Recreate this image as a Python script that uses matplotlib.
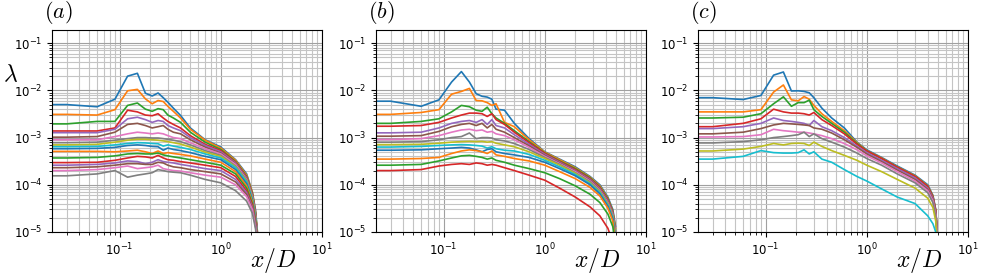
import matplotlib
matplotlib.use('Agg')
import matplotlib.pyplot as plt

plt.rcParams['mathtext.fontset'] = 'cm'

OUTPUT_FILE = 'out.png'

# x/D sampling (first point sits just left of the axis edge)
XA = [0.02, 0.03, 0.06, 0.09, 0.12, 0.15, 0.18, 0.21, 0.24, 0.27, 0.30, 0.34,
      0.40, 0.50, 0.70, 1.0, 1.4, 1.8, 2.05, 2.2, 2.35]
XB = [0.02, 0.03, 0.06, 0.09, 0.12, 0.15, 0.18, 0.21, 0.24, 0.27, 0.30, 0.33,
      0.40, 0.50, 0.70, 1.0, 1.4, 2.0, 2.8, 3.5, 4.2, 4.7, 5.0]
XC = [0.02, 0.03, 0.06, 0.09, 0.12, 0.15, 0.18, 0.21, 0.24, 0.27, 0.30, 0.36,
      0.45, 0.60, 0.80, 1.0, 1.4, 2.0, 3.0, 4.0, 4.5, 4.8, 5.0]

# panel (a): 18 curves, top to bottom
LAM_A = [
    [5.0e-3, 5.0e-3, 4.5e-3, 6.5e-3, 2.0e-2, 2.3e-2, 8.7e-3, 7.6e-3, 8.8e-3, 7.0e-3, 5.6e-3, 4.2e-3, 2.95e-3, 1.6e-3, 9.0e-4, 6.3e-4, 3.4e-4, 1.7e-4, 7e-5, 3e-5, 6e-6],
    [3.1e-3, 3.1e-3, 3.0e-3, 3.9e-3, 9.8e-3, 1.05e-2, 6.6e-3, 5.2e-3, 6.1e-3, 5.8e-3, 4.6e-3, 3.6e-3, 2.6e-3, 1.5e-3, 8.8e-4, 6.0e-4, 3.3e-4, 1.6e-4, 7e-5, 2.8e-5, 6e-6],
    [1.95e-3, 1.95e-3, 2.2e-3, 2.2e-3, 4.8e-3, 5.4e-3, 4.0e-3, 3.6e-3, 4.1e-3, 3.9e-3, 3.0e-3, 2.6e-3, 2.1e-3, 1.3e-3, 8.0e-4, 5.6e-4, 3.1e-4, 1.5e-4, 6.5e-5, 2.6e-5, 5e-6],
    [1.38e-3, 1.38e-3, 1.38e-3, 1.6e-3, 3.8e-3, 3.5e-3, 3.0e-3, 2.9e-3, 3.2e-3, 2.6e-3, 2.2e-3, 1.9e-3, 1.6e-3, 1.1e-3, 7.2e-4, 5.3e-4, 3.0e-4, 1.45e-4, 6.2e-5, 2.5e-5, 5e-6],
    [1.27e-3, 1.27e-3, 1.27e-3, 1.5e-3, 2.5e-3, 2.7e-3, 2.4e-3, 2.1e-3, 2.3e-3, 2.2e-3, 1.8e-3, 1.6e-3, 1.4e-3, 1.0e-3, 6.8e-4, 5.0e-4, 2.9e-4, 1.4e-4, 6e-5, 2.4e-5, 5e-6],
    [1.02e-3, 1.02e-3, 1.05e-3, 1.3e-3, 1.9e-3, 2.0e-3, 1.8e-3, 1.6e-3, 1.7e-3, 1.8e-3, 1.5e-3, 1.3e-3, 1.2e-3, 9.0e-4, 6.3e-4, 4.7e-4, 2.8e-4, 1.35e-4, 5.8e-5, 2.3e-5, 5e-6],
    [9.0e-4, 9.0e-4, 9.0e-4, 1.05e-3, 1.2e-3, 1.3e-3, 1.25e-3, 1.2e-3, 1.25e-3, 1.2e-3, 1.1e-3, 1.0e-3, 9.5e-4, 7.8e-4, 5.8e-4, 4.5e-4, 2.7e-4, 1.3e-4, 5.6e-5, 2.2e-5, 5e-6],
    [7.8e-4, 7.8e-4, 8.0e-4, 8.8e-4, 9.5e-4, 1.0e-3, 1.0e-3, 9.8e-4, 9.8e-4, 9.5e-4, 9.2e-4, 8.8e-4, 8.2e-4, 7.0e-4, 5.3e-4, 4.2e-4, 2.5e-4, 1.25e-4, 5.4e-5, 2.1e-5, 5e-6],
    [7.0e-4, 7.0e-4, 7.2e-4, 8.0e-4, 8.8e-4, 9.2e-4, 9.2e-4, 9.0e-4, 8.8e-4, 8.5e-4, 8.2e-4, 7.8e-4, 7.3e-4, 6.3e-4, 4.9e-4, 4.0e-4, 2.4e-4, 1.2e-4, 5.2e-5, 2.0e-5, 5e-6],
    [6.4e-4, 6.4e-4, 6.5e-4, 7.0e-4, 7.5e-4, 7.8e-4, 7.7e-4, 7.5e-4, 7.4e-4, 6.6e-4, 7.0e-4, 6.6e-4, 6.2e-4, 5.6e-4, 4.5e-4, 3.7e-4, 2.3e-4, 1.15e-4, 5e-5, 2e-5, 5e-6],
    [5.8e-4, 5.8e-4, 5.9e-4, 6.2e-4, 6.8e-4, 7.0e-4, 6.8e-4, 6.5e-4, 6.4e-4, 5.4e-4, 6.0e-4, 5.6e-4, 5.3e-4, 4.8e-4, 4.0e-4, 3.4e-4, 2.1e-4, 1.05e-4, 4.7e-5, 1.9e-5, 5e-6],
    [5.1e-4, 5.1e-4, 5.1e-4, 5.0e-4, 5.2e-4, 5.4e-4, 5.0e-4, 4.6e-4, 5.2e-4, 4.6e-4, 4.8e-4, 4.6e-4, 4.4e-4, 4.1e-4, 3.5e-4, 3.0e-4, 1.9e-4, 9.5e-5, 4.4e-5, 1.8e-5, 5e-6],
    [3.7e-4, 3.7e-4, 3.8e-4, 4.1e-4, 4.5e-4, 4.6e-4, 4.5e-4, 4.5e-4, 4.7e-4, 4.3e-4, 4.1e-4, 3.9e-4, 3.7e-4, 3.4e-4, 3.0e-4, 2.6e-4, 1.7e-4, 8.5e-5, 4e-5, 1.7e-5, 5e-6],
    [2.95e-4, 2.95e-4, 3.0e-4, 3.3e-4, 3.7e-4, 4.0e-4, 3.9e-4, 3.7e-4, 4.2e-4, 3.7e-4, 3.4e-4, 3.3e-4, 3.1e-4, 2.9e-4, 2.6e-4, 2.3e-4, 1.5e-4, 7.5e-5, 3.7e-5, 1.6e-5, 5e-6],
    [2.6e-4, 2.6e-4, 2.7e-4, 2.9e-4, 3.2e-4, 3.1e-4, 2.8e-4, 3.0e-4, 3.4e-4, 3.1e-4, 3.0e-4, 2.9e-4, 2.7e-4, 2.5e-4, 2.2e-4, 2.0e-4, 1.3e-4, 6.8e-5, 3.4e-5, 1.5e-5, 5e-6],
    [2.3e-4, 2.3e-4, 2.4e-4, 2.6e-4, 2.8e-4, 2.8e-4, 2.7e-4, 2.7e-4, 3.0e-4, 2.9e-4, 2.6e-4, 2.4e-4, 2.3e-4, 2.1e-4, 1.9e-4, 1.7e-4, 1.15e-4, 6.2e-5, 3.2e-5, 1.4e-5, 5e-6],
    [2.0e-4, 2.0e-4, 2.1e-4, 2.3e-4, 2.5e-4, 2.2e-4, 2.3e-4, 2.4e-4, 2.6e-4, 2.2e-4, 2.1e-4, 2.0e-4, 1.95e-4, 1.8e-4, 1.6e-4, 1.45e-4, 1.0e-4, 5.6e-5, 3e-5, 1.3e-5, 5e-6],
    [1.55e-4, 1.55e-4, 1.7e-4, 2.0e-4, 1.45e-4, 1.6e-4, 1.7e-4, 1.8e-4, 2.1e-4, 2.0e-4, 1.9e-4, 1.85e-4, 1.8e-4, 1.6e-4, 1.3e-4, 1.1e-4, 7.5e-5, 4.5e-5, 2.5e-5, 1.2e-5, 4e-6],
]

# panel (b): 14 curves
LAM_B = [
    [5.9e-3, 5.9e-3, 4.6e-3, 6.3e-3, 1.5e-2, 2.5e-2, 1.5e-2, 8.5e-3, 7.5e-3, 7.2e-3, 6.5e-3, 4.0e-3, 3.8e-3, 2.0e-3, 9.5e-4, 5.0e-4, 3.5e-4, 2.4e-4, 1.5e-4, 1.0e-4, 5.5e-5, 3e-5, 1.3e-5],
    [3.1e-3, 3.1e-3, 3.4e-3, 3.9e-3, 8.3e-3, 9.5e-3, 1.1e-2, 6.1e-3, 6.0e-3, 5.5e-3, 4.8e-3, 5.2e-3, 2.1e-3, 1.7e-3, 9.0e-4, 4.9e-4, 3.4e-4, 2.3e-4, 1.45e-4, 9.5e-5, 5.2e-5, 2.8e-5, 1.2e-5],
    [2.0e-3, 2.0e-3, 2.2e-3, 2.5e-3, 3.5e-3, 4.8e-3, 4.5e-3, 3.8e-3, 3.6e-3, 4.4e-3, 3.2e-3, 2.6e-3, 2.0e-3, 1.4e-3, 8.2e-4, 4.7e-4, 3.2e-4, 2.2e-4, 1.4e-4, 9e-5, 5e-5, 2.7e-5, 1.1e-5],
    [1.74e-3, 1.74e-3, 1.8e-3, 2.1e-3, 2.6e-3, 3.0e-3, 3.3e-3, 3.3e-3, 3.2e-3, 2.8e-3, 3.2e-3, 2.4e-3, 1.9e-3, 1.3e-3, 7.8e-4, 4.6e-4, 3.1e-4, 2.1e-4, 1.35e-4, 8.7e-5, 4.8e-5, 2.6e-5, 1.0e-5],
    [1.26e-3, 1.26e-3, 1.3e-3, 1.6e-3, 2.0e-3, 2.2e-3, 2.3e-3, 2.1e-3, 2.4e-3, 1.9e-3, 2.4e-3, 1.8e-3, 1.6e-3, 1.15e-3, 7.2e-4, 4.4e-4, 3.0e-4, 2.0e-4, 1.3e-4, 8.3e-5, 4.6e-5, 2.5e-5, 1.0e-5],
    [1.07e-3, 1.07e-3, 1.1e-3, 1.35e-3, 1.7e-3, 1.9e-3, 2.0e-3, 1.8e-3, 2.0e-3, 1.6e-3, 1.9e-3, 1.5e-3, 1.3e-3, 1.0e-3, 6.7e-4, 4.2e-4, 2.9e-4, 1.95e-4, 1.25e-4, 8e-5, 4.4e-5, 2.4e-5, 9e-6],
    [9.1e-4, 9.1e-4, 9.5e-4, 1.1e-3, 1.3e-3, 1.45e-3, 1.5e-3, 1.4e-3, 1.45e-3, 1.3e-3, 1.35e-3, 1.2e-3, 1.1e-3, 9.0e-4, 6.2e-4, 4.0e-4, 2.8e-4, 1.9e-4, 1.2e-4, 7.7e-5, 4.2e-5, 2.3e-5, 9e-6],
    [8.0e-4, 8.0e-4, 8.2e-4, 9.0e-4, 1.0e-3, 1.05e-3, 1.25e-3, 9.5e-4, 1.0e-3, 1.0e-3, 9.8e-4, 9.0e-4, 8.5e-4, 7.5e-4, 5.6e-4, 3.8e-4, 2.7e-4, 1.8e-4, 1.15e-4, 7.4e-5, 4e-5, 2.2e-5, 8e-6],
    [7.1e-4, 7.1e-4, 7.2e-4, 7.6e-4, 8.0e-4, 8.2e-4, 8.3e-4, 8.2e-4, 8.3e-4, 8.0e-4, 8.2e-4, 7.6e-4, 7.0e-4, 6.4e-4, 5.0e-4, 3.6e-4, 2.6e-4, 1.75e-4, 1.1e-4, 7.1e-5, 3.9e-5, 2.1e-5, 8e-6],
    [6.3e-4, 6.3e-4, 6.5e-4, 6.8e-4, 7.0e-4, 7.1e-4, 7.0e-4, 6.8e-4, 6.6e-4, 6.0e-4, 6.4e-4, 5.8e-4, 5.4e-4, 5.2e-4, 4.4e-4, 3.3e-4, 2.4e-4, 1.65e-4, 1.05e-4, 6.8e-5, 3.7e-5, 2.0e-5, 7e-6],
    [5.4e-4, 5.4e-4, 5.5e-4, 5.8e-4, 6.0e-4, 6.2e-4, 6.0e-4, 5.5e-4, 5.0e-4, 5.6e-4, 5.8e-4, 5.0e-4, 4.6e-4, 4.3e-4, 3.8e-4, 3.0e-4, 2.2e-4, 1.55e-4, 1.0e-4, 6.4e-5, 3.5e-5, 1.9e-5, 7e-6],
    [3.5e-4, 3.5e-4, 3.6e-4, 3.8e-4, 4.6e-4, 5.2e-4, 5.5e-4, 5.3e-4, 5.0e-4, 4.6e-4, 5.2e-4, 4.3e-4, 4.0e-4, 3.6e-4, 3.2e-4, 2.6e-4, 1.9e-4, 1.35e-4, 8.8e-5, 5.8e-5, 3.2e-5, 1.7e-5, 6e-6],
    [2.6e-4, 2.6e-4, 2.7e-4, 3.2e-4, 3.7e-4, 4.1e-4, 4.2e-4, 4.0e-4, 3.8e-4, 3.5e-4, 3.7e-4, 3.3e-4, 3.0e-4, 2.6e-4, 2.2e-4, 1.8e-4, 1.35e-4, 9.5e-5, 6.3e-5, 4.2e-5, 2.4e-5, 1.3e-5, 5e-6],
    [2.0e-4, 2.0e-4, 2.1e-4, 2.5e-4, 2.7e-4, 2.8e-4, 2.7e-4, 2.9e-4, 2.8e-4, 2.6e-4, 2.7e-4, 2.6e-4, 2.3e-4, 2.0e-4, 1.6e-4, 1.25e-4, 8.5e-5, 5.5e-5, 3.4e-5, 2.2e-5, 1.2e-5, 6e-6, 3e-6],
]

# panel (c): 10 curves
LAM_C = [
    [7.0e-3, 7.0e-3, 6.4e-3, 7.8e-3, 2.1e-2, 2.45e-2, 9.7e-3, 9.8e-3, 9.5e-3, 8.9e-3, 7.0e-3, 4.2e-3, 2.6e-3, 1.6e-3, 8.0e-4, 5.5e-4, 3.8e-4, 2.5e-4, 1.6e-4, 1.0e-4, 6e-5, 3e-5, 8e-6],
    [3.5e-3, 3.5e-3, 3.5e-3, 3.9e-3, 9.2e-3, 1.3e-2, 6.3e-3, 6.0e-3, 7.4e-3, 6.5e-3, 4.8e-3, 3.2e-3, 2.2e-3, 1.4e-3, 7.8e-4, 5.3e-4, 3.7e-4, 2.4e-4, 1.55e-4, 9.5e-5, 5.8e-5, 2.9e-5, 8e-6],
    [2.6e-3, 2.6e-3, 2.7e-3, 3.2e-3, 5.2e-3, 7.3e-3, 4.6e-3, 5.5e-3, 5.5e-3, 6.2e-3, 3.9e-3, 2.8e-3, 2.0e-3, 1.3e-3, 7.5e-4, 5.2e-4, 3.6e-4, 2.35e-4, 1.5e-4, 9.2e-5, 5.6e-5, 2.8e-5, 8e-6],
    [1.7e-3, 1.7e-3, 2.0e-3, 2.5e-3, 4.0e-3, 3.5e-3, 3.3e-3, 3.3e-3, 3.2e-3, 3.0e-3, 3.4e-3, 2.4e-3, 1.8e-3, 1.2e-3, 7.2e-4, 5.2e-4, 3.6e-4, 2.35e-4, 1.5e-4, 9.2e-5, 5.5e-5, 2.8e-5, 8e-6],
    [1.55e-3, 1.55e-3, 1.7e-3, 2.0e-3, 2.6e-3, 2.3e-3, 2.2e-3, 2.1e-3, 2.0e-3, 1.8e-3, 2.3e-3, 1.7e-3, 1.4e-3, 1.0e-3, 6.6e-4, 4.8e-4, 3.3e-4, 2.2e-4, 1.4e-4, 8.5e-5, 5.2e-5, 2.6e-5, 7e-6],
    [1.2e-3, 1.2e-3, 1.3e-3, 1.55e-3, 1.85e-3, 2.0e-3, 1.95e-3, 1.9e-3, 1.85e-3, 1.8e-3, 1.6e-3, 1.5e-3, 1.25e-3, 9.0e-4, 6.2e-4, 4.5e-4, 3.1e-4, 2.05e-4, 1.3e-4, 8e-5, 4.9e-5, 2.5e-5, 7e-6],
    [1.03e-3, 1.03e-3, 1.05e-3, 1.15e-3, 1.5e-3, 1.4e-3, 1.35e-3, 1.3e-3, 1.3e-3, 1.25e-3, 1.2e-3, 1.1e-3, 9.5e-4, 7.5e-4, 5.5e-4, 4.1e-4, 2.9e-4, 1.9e-4, 1.2e-4, 7.5e-5, 4.6e-5, 2.3e-5, 7e-6],
    [7.7e-4, 7.7e-4, 8.2e-4, 9.0e-4, 1.0e-3, 1.05e-3, 1.1e-3, 1.15e-3, 1.3e-3, 1.05e-3, 1.2e-3, 9.5e-4, 8.0e-4, 6.3e-4, 4.7e-4, 3.6e-4, 2.6e-4, 1.7e-4, 1.1e-4, 6.8e-5, 4.2e-5, 2.1e-5, 6e-6],
    [5.2e-4, 5.2e-4, 5.7e-4, 6.5e-4, 7.5e-4, 7.0e-4, 7.5e-4, 7.6e-4, 7.5e-4, 6.8e-4, 8.0e-4, 6.5e-4, 5.3e-4, 4.2e-4, 3.3e-4, 2.6e-4, 1.9e-4, 1.3e-4, 8.5e-5, 5.2e-5, 3.3e-5, 1.7e-5, 5e-6],
    [3.5e-4, 3.5e-4, 4.0e-4, 5.3e-4, 4.8e-4, 4.7e-4, 4.7e-4, 4.8e-4, 5.5e-4, 4.5e-4, 5.0e-4, 3.5e-4, 3.0e-4, 2.1e-4, 1.5e-4, 1.2e-4, 8.2e-5, 5.5e-5, 4.0e-5, 2.2e-5, 1.5e-5, 1.0e-5, 4e-6],
]

PANELS = [('(a)', XA, LAM_A), ('(b)', XB, LAM_B), ('(c)', XC, LAM_C)]
LEFTS = [52, 376, 698]   # axes left edges in pixels

fig = plt.figure(figsize=(9.97, 2.8), dpi=100)

for (tag, xs, curves), left in zip(PANELS, LEFTS):
    ax = fig.add_axes([left / 997, 48 / 280, 270 / 997, 202 / 280])
    for ys in curves:
        ax.plot(xs, ys, lw=1.2)
    ax.set_xscale('log')
    ax.set_yscale('log')
    ax.set_xlim(0.0215, 10)
    ax.set_ylim(1e-5, 0.19)
    ax.grid(True, which='major', color='#a0a0a0', lw=0.8)
    ax.grid(True, which='minor', color='#c4c4c4', lw=0.8)
    ax.tick_params(labelsize=8.5)
    ax.text(-0.03, 1.02, r'$%s$' % tag, transform=ax.transAxes, fontsize=16,
            ha='left', va='bottom')
    ax.text(0.82, -0.14, r'$x/D$', transform=ax.transAxes, fontsize=17,
            ha='center', va='center')

fig.text(0.011, 0.735, r'$\lambda$', fontsize=17, ha='center', va='center')

plt.savefig(OUTPUT_FILE, dpi=100)
